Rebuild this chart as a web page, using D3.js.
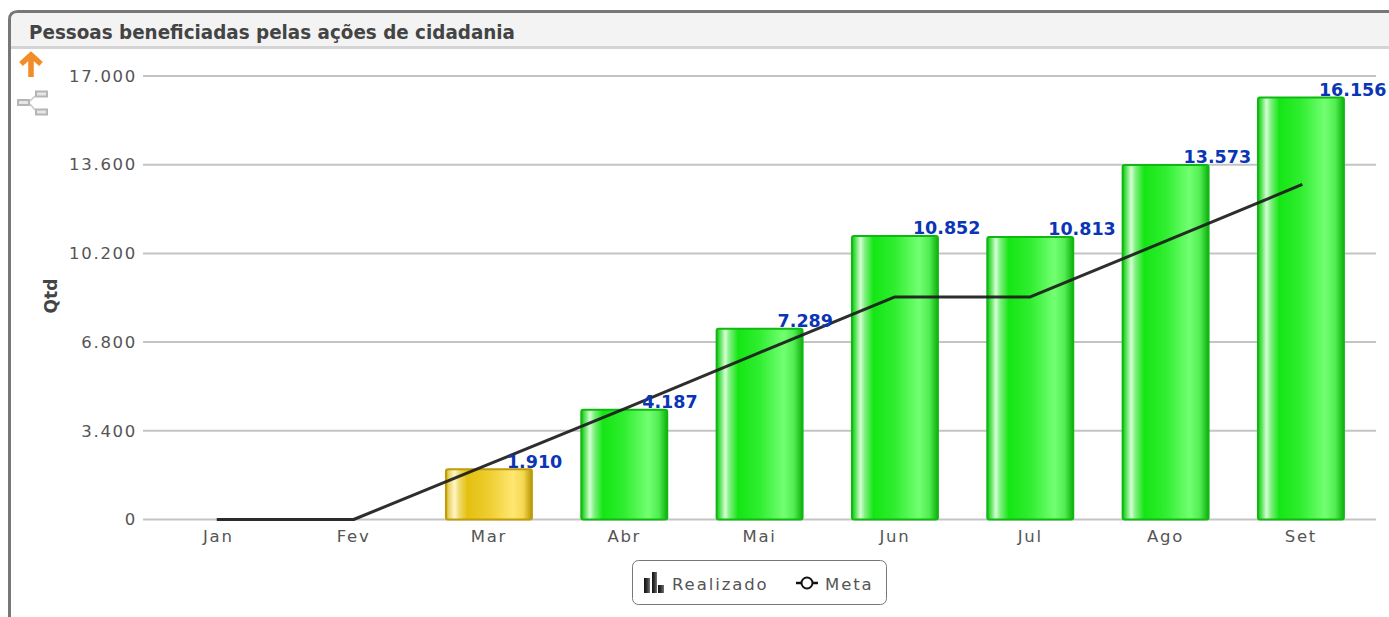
<!DOCTYPE html>
<html><head><meta charset="utf-8">
<script src="https://cdn.jsdelivr.net/npm/d3@7/dist/d3.min.js"></script>
<style>
html,body{margin:0;padding:0;background:#fff;overflow:hidden}
svg{display:block}
text{font-family:"DejaVu Sans",Verdana,sans-serif}
</style></head><body>
<svg id="c" width="1389" height="617"></svg>
<script>
const titleText = "Pessoas beneficiadas pelas ações de cidadania";
const axisTitle = "Qtd";
const categories = ["Jan","Fev","Mar","Abr","Mai","Jun","Jul","Ago","Set"];
const realizado = [null,null,1910,4187,7289,10852,10813,13573,16156];
const meta = [0,0,2120,4240,6400,8530,8530,10670,12820];
const status = [null,null,"amarelo","verde","verde","verde","verde","verde","verde"];
const yTicks = [0,3400,6800,10200,13600,17000];
const legendLabels = ["Realizado","Meta"];

const svg = d3.select("#c");
const defs = svg.append("defs");
function grad(id,stops){
  const g = defs.append("linearGradient").attr("id",id).attr("x1",0).attr("x2",1).attr("y1",0).attr("y2",0);
  stops.forEach(s=>g.append("stop").attr("offset",s[0]).attr("stop-color",s[1]));
}
grad("verde",[[0,"#14c414"],[0.03,"#40dc40"],[0.1,"#d4ffd4"],[0.15,"#80f080"],[0.25,"#14e614"],[0.5,"#30ee30"],[0.78,"#72ff72"],[0.9,"#50ee50"],[1,"#10b010"]]);
grad("amarelo",[[0,"#cfa90a"],[0.03,"#e8d060"],[0.1,"#fff6c8"],[0.15,"#f0dc70"],[0.25,"#e4c010"],[0.5,"#eecd30"],[0.78,"#ffe770"],[0.9,"#f4d850"],[1,"#b89606"]]);
grad("legendBar",[[0,"#111"],[0.5,"#333"],[1,"#777"]]);
const edge = {verde:"#12b812",amarelo:"#c09c0a"};

// panel
svg.append("path").attr("d","M9.5,617 V20 Q9.5,11.5 18,11.5 H1389").attr("fill","none").attr("stroke","#777").attr("stroke-width",3);
svg.append("path").attr("d","M11,47 V20 Q11,13 18,13 H1389 V47 Z").attr("fill","#f3f3f3");
svg.append("rect").attr("x",11).attr("y",46).attr("width",1378).attr("height",3).attr("fill","#d4d4d4");
svg.append("text").attr("x",29).attr("y",39).attr("font-size",20).attr("font-weight","bold").attr("fill","#444")
  .attr("textLength",486).attr("lengthAdjust","spacingAndGlyphs").text(titleText);

// icons
svg.append("path").attr("d","M21,64 L31,55 L41,64 M31,57 V77").attr("fill","none").attr("stroke","#f28c28").attr("stroke-width",5.5).attr("stroke-linejoin","miter");
const ic = svg.append("g").attr("fill","#e6e6e6").attr("stroke","#b5b5b5").attr("stroke-width",2);
ic.append("rect").attr("x",18).attr("y",100).attr("width",11).attr("height",5);
ic.append("rect").attr("x",36).attr("y",91.5).attr("width",11).attr("height",5);
ic.append("rect").attr("x",36).attr("y",109.5).attr("width",11).attr("height",5);
svg.append("path").attr("d","M30,101 L35,96 M30,104 L35,110").attr("stroke","#c8c8c8").attr("stroke-width",1.5).attr("fill","none");

// scales
const x = d3.scaleBand().domain(categories).range([150.6,1368.6]).paddingInner(0.35).paddingOuter(0.175);
const y = d3.scaleLinear().domain([0,17000]).range([519.5,76]);
const loc = d3.formatLocale({decimal:",",thousands:".",grouping:[3],currency:["R$",""]});
const fmt = loc.format(",d");

// axes
const yAxis = d3.axisLeft(y).tickValues(yTicks).tickFormat(fmt).tickSize(0).tickPadding(6);
const yg = svg.append("g").attr("transform","translate(143,0)").call(yAxis);
yg.select(".domain").remove();
yg.selectAll("text").attr("font-size",16.5).attr("fill","#555").attr("letter-spacing","1.7px").attr("font-family","'DejaVu Sans'");
svg.append("g").selectAll("line").data(yTicks).join("line")
  .attr("x1",143).attr("x2",1376).attr("y1",d=>y(d)).attr("y2",d=>y(d))
  .attr("stroke","#c4c4c4").attr("stroke-width",2);
const xAxis = d3.axisBottom(x).tickSize(0).tickPadding(11);
const xg = svg.append("g").attr("transform","translate(0,519)").call(xAxis);
xg.select(".domain").remove();
xg.selectAll("text").attr("font-size",16.5).attr("fill","#555").attr("letter-spacing","1.7px").attr("font-family","'DejaVu Sans'");
svg.append("text").attr("transform","translate(57,296) rotate(-90)").attr("text-anchor","middle")
  .attr("font-size",17).attr("font-weight","bold").attr("fill","#444").text(axisTitle);

// bars
const rows = categories.map((c,i)=>({c,v:realizado[i],s:status[i]})).filter(d=>d.v!==null);
svg.append("g").selectAll("rect").data(rows).join("rect")
  .attr("x",d=>x(d.c)+1).attr("width",x.bandwidth()-2)
  .attr("y",d=>y(d.v)-0.5).attr("height",d=>y(0)-y(d.v)+0.5)
  .attr("rx",2).attr("fill",d=>`url(#${d.s})`).attr("stroke",d=>edge[d.s]).attr("stroke-width",2);

// meta line
const cx = c=>x(c)+x.bandwidth()/2;
const line = d3.line().x((d,i)=>cx(categories[i])).y(d=>y(d));
svg.append("path").datum(meta).attr("d",line).attr("fill","none").attr("stroke","#1c1c1c").attr("stroke-opacity",0.92)
  .attr("stroke-width",3).attr("stroke-linecap","square").attr("stroke-linejoin","round");

// value labels
svg.append("g").selectAll("text").data(rows).join("text")
  .attr("x",d=>x(d.c)+x.bandwidth()-26).attr("y",d=>y(d.v)-2)
  .attr("font-size",17.5).attr("font-weight","bold").attr("fill","#0a35b5")
  .text(d=>fmt(d.v));

// legend
svg.append("rect").attr("x",632.5).attr("y",560.5).attr("width",254).attr("height",44).attr("rx",6)
  .attr("fill","#fff").attr("stroke","#777").attr("stroke-width",1);
const lg = svg.append("g");
[[644,578,6,15],[652,572,5,21],[658,585,6,8]].forEach(r=>lg.append("rect").attr("x",r[0]).attr("y",r[1]).attr("width",r[2]).attr("height",r[3]).attr("fill","url(#legendBar)"));
lg.append("text").attr("x",672).attr("y",590).attr("font-size",16.5).attr("fill","#555").attr("letter-spacing","1.9px").text(legendLabels[0]);
lg.append("path").attr("d","M796,583 H818").attr("stroke","#111").attr("stroke-width",2.5);
lg.append("circle").attr("cx",807).attr("cy",583).attr("r",5.5).attr("fill","#fff").attr("stroke","#111").attr("stroke-width",2);
lg.append("text").attr("x",825).attr("y",590).attr("font-size",16.5).attr("fill","#555").attr("letter-spacing","1.9px").text(legendLabels[1]);
</script>
</body></html>
